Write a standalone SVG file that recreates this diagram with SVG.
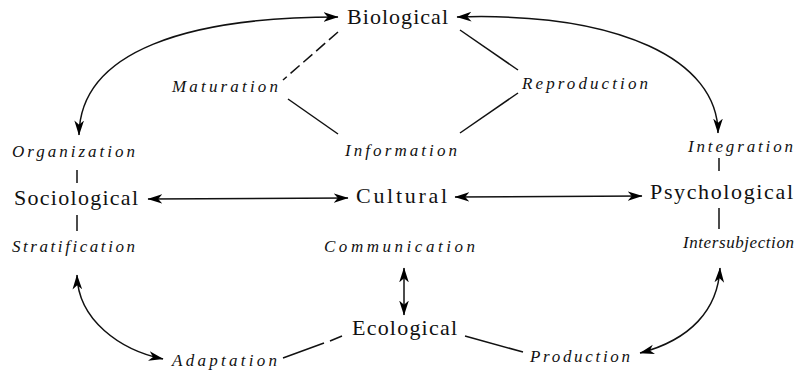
<svg xmlns="http://www.w3.org/2000/svg" width="797" height="375" viewBox="0 0 797 375">
<defs>
<marker id="ah" viewBox="0 0 14 10" refX="13.5" refY="5" markerUnits="userSpaceOnUse" markerWidth="15" markerHeight="11" orient="auto-start-reverse">
<path d="M0,0.5 L14,5 L0,9.5 L4,5 Z" fill="#000"/>
</marker>
<style>
.node{font-family:"Liberation Serif","Times New Roman",serif;font-size:22px;fill:#111;}
.lab{font-family:"Liberation Serif","Times New Roman",serif;font-size:17px;font-style:italic;fill:#111;}
.ln{stroke:#111;stroke-width:1.5;fill:none;}
.arr{stroke:#111;stroke-width:1.5;fill:none;marker-start:url(#ah);marker-end:url(#ah);}
</style>
</defs>
<rect width="797" height="375" fill="#fff"/>
<g id="biological"><text class="node" x="347" y="24" textLength="101" lengthAdjust="spacing">Biological</text></g>
<g id="sociological"><text class="node" x="14" y="205" textLength="124" lengthAdjust="spacing">Sociological</text></g>
<g id="cultural"><text class="node" x="356" y="203" textLength="91" lengthAdjust="spacing">Cultural</text></g>
<g id="psychological"><text class="node" x="650" y="199" textLength="143" lengthAdjust="spacing">Psychological</text></g>
<g id="ecological"><text class="node" x="352" y="335" textLength="105" lengthAdjust="spacing">Ecological</text></g>
<g id="maturation"><text class="lab" x="172" y="92" textLength="106" lengthAdjust="spacing">Maturation</text></g>
<g id="reproduction"><text class="lab" x="522" y="89" textLength="126" lengthAdjust="spacing">Reproduction</text></g>
<g id="information"><text class="lab" x="345" y="156" textLength="112" lengthAdjust="spacing">Information</text></g>
<g id="organization"><text class="lab" x="12" y="157" textLength="123" lengthAdjust="spacing">Organization</text></g>
<g id="integration"><text class="lab" x="688" y="152" textLength="105" lengthAdjust="spacing">Integration</text></g>
<g id="stratification"><text class="lab" x="12" y="252" textLength="123" lengthAdjust="spacing">Stratification</text></g>
<g id="communication"><text class="lab" x="324" y="252" textLength="151" lengthAdjust="spacing">Communication</text></g>
<g id="intersubjection"><text class="lab" x="683" y="248" textLength="111" lengthAdjust="spacing">Intersubjection</text></g>
<g id="adaptation"><text class="lab" x="172" y="366" textLength="105" lengthAdjust="spacing">Adaptation</text></g>
<g id="production"><text class="lab" x="530" y="362" textLength="100" lengthAdjust="spacing">Production</text></g>
<g id="connectors">
<path class="arr" d="M79,135 C80,50 190,17 338,17"/>
<path class="arr" d="M457,17 C620,12 718,60 718,133"/>
<path class="arr" d="M148,199 L348,198"/>
<path class="arr" d="M455,197 L642,196"/>
<path class="arr" d="M77,275 C78,320 120,350 163,359"/>
<path class="arr" d="M720,268 C718,310 690,340 640,353"/>
<path class="arr" d="M404,268 L404,315"/>
<path class="ln" d="M338,32 L283,80" stroke-dasharray="12,5"/>
<path class="ln" d="M288,99 L338,134"/>
<path class="ln" d="M460,30 L518,70"/>
<path class="ln" d="M518,93 L460,133"/>
<path class="ln" d="M77,170 L77,183"/>
<path class="ln" d="M77,215 L77,231"/>
<path class="ln" d="M719,158 L719,171"/>
<path class="ln" d="M719,208 L719,229"/>
<path class="ln" d="M342,336 L330,341 M324,343 L283,358"/>
<path class="ln" d="M465,336 L523,352"/>
</g>
</svg>
